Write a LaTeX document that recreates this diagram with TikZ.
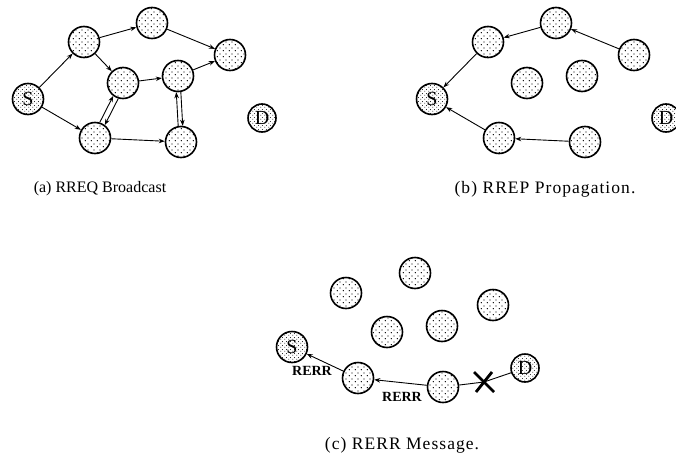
\documentclass[tikz,border=0pt]{standalone}
\usepackage{fontspec}
\setmainfont{Liberation Serif}
\usetikzlibrary{arrows.meta,patterns.meta,calc}

% sparse stipple for ordinary hosts, dense stipple for source/destination
\tikzdeclarepattern{
  name=stipple, type=uncolored,
  bottom left={(0pt,0pt)}, top right={(6pt,6pt)}, tile size={(6pt,6pt)},
  code={\fill (1.5pt,1.5pt) circle (0.75pt); \fill (4.5pt,4.5pt) circle (0.75pt);}
}
\tikzdeclarepattern{
  name=densestipple, type=uncolored,
  bottom left={(0pt,0pt)}, top right={(4pt,4pt)}, tile size={(4pt,4pt)},
  code={\fill (1pt,1pt) circle (0.6pt); \fill (3pt,3pt) circle (0.6pt);}
}

\tikzset{
  host/.style={circle, draw, line width=1.6pt, minimum size=31pt, inner sep=0pt,
    pattern=stipple},
  endhost/.style={host, pattern=densestipple, font=\fontsize{20}{20}\selectfont},
  desthost/.style={endhost, minimum size=28pt},
  msg/.style={line width=0.9pt, -{Stealth[length=6pt,width=4.5pt]}},
  link/.style={line width=0.9pt},
  caption/.style={font=\fontsize{16}{18}\selectfont},
  widecaption/.style={font=\fontsize{17.5}{19}\selectfont\addfontfeature{LetterSpace=6}},
  errlabel/.style={font=\fontsize{14}{15}\selectfont\bfseries, inner sep=0pt},
  cut/.style={line width=2.8pt}
}

\begin{document}
\begin{tikzpicture}[x=1pt,y=-1pt]
\useasboundingbox (0,0) rectangle (676,460);

% ---------- (a) route request flooding ----------
\node[endhost]  (aS) at (28,99)  {S};
\node[host]     (aA) at (84,42)  {};
\node[host]     (aB) at (152,23) {};
\node[host]     (aC) at (230,55) {};
\node[host]     (aE) at (123,83) {};
\node[host]     (aF) at (178,76) {};
\node[host]     (aG) at (95,138) {};
\node[host]     (aH) at (181,142) {};
\node[desthost] (aD) at (262,118) {D};

\draw[msg] (aS) -- (aA);
\draw[msg] (aS) -- (aG);
\draw[msg] (aA) -- (aB);
\draw[msg] (aB) -- (aC);
\draw[msg] (aA) -- (aE);
\draw[msg] (aE) -- (aF);
\draw[msg] (aF) -- (aC);
\draw[msg] (aG) -- (aH);
% request crossing in both directions
\draw[msg] (aG.73) -- (aE.233);
\draw[msg] (aE.253) -- (aG.53);
\draw[msg] (aH.100) -- (aF.264);
\draw[msg] (aF.280) -- (aH.84);

\node[caption] (capA) at (100,189) {(a) RREQ Broadcast};

% ---------- (b) route reply back to the source ----------
\node[endhost]  (bS) at (432,99)  {S};
\node[host]     (bA) at (488,42)  {};
\node[host]     (bB) at (556,23)  {};
\node[host]     (bC) at (634,55)  {};
\node[host]     (bE) at (527,83)  {};
\node[host]     (bF) at (582,76)  {};
\node[host]     (bG) at (499,138) {};
\node[host]     (bH) at (585,142) {};
\node[desthost] (bD) at (666,118) {D};

\draw[msg] (bC) -- (bB);
\draw[msg] (bB) -- (bA);
\draw[msg] (bA) -- (bS);
\draw[msg] (bH) -- (bG);
\draw[msg] (bG) -- (bS);

\node[widecaption] (capB) at (545,189) {(b) RREP Propagation.};

% ---------- (c) route error after a broken link ----------
\node[endhost]  (cS) at (292,347) {S};
\node[host]     (cA) at (346,293) {};
\node[host]     (cB) at (415,273) {};
\node[host]     (cC) at (493,305) {};
\node[host]     (cE) at (387,332) {};
\node[host]     (cF) at (442,326) {};
\node[host]     (cG) at (358,378) {};
\node[host]     (cH) at (443,387) {};
\node[desthost] (cD) at (525,368) {D};

% broken link between the last hop and the destination
\coordinate (brk) at (484,382);
\draw[link] (cH) -- (brk) -- (cD);
\draw[cut] ($(brk)+(-10,-10)$) -- ($(brk)+(10,10)$);
\draw[cut] ($(brk)+(-8,10)$) -- ($(brk)+(8,-10)$);

\draw[msg] (cH) -- (cG);
\draw[msg] (cG) -- (cS);
\node[errlabel] (err1) at (312,371) {RERR};
\node[errlabel] (err2) at (402,397) {RERR};

\node[widecaption] (capC) at (402,445) {(c) RERR Message.};
\end{tikzpicture}
\end{document}
